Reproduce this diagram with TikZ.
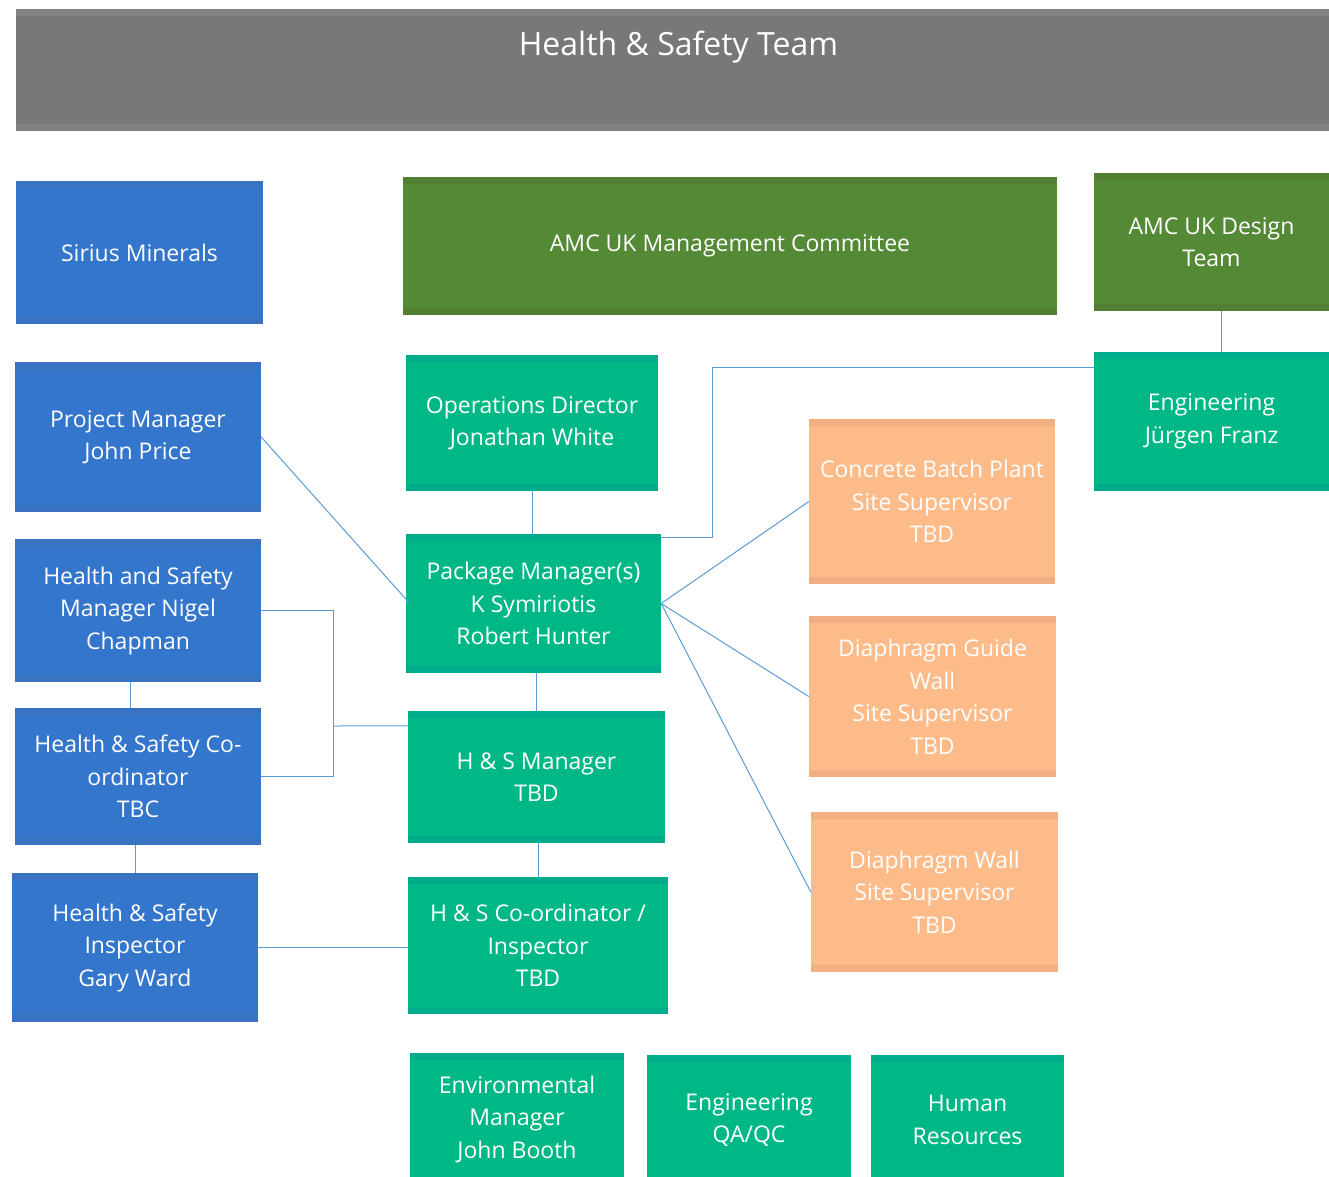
\documentclass[tikz,border=0pt]{standalone}
\usepackage{fontspec}
\setmainfont{Open Sans}
\usetikzlibrary{positioning}

\definecolor{hsgray}{HTML}{787878}
\definecolor{hsgrayband}{HTML}{828282}
\definecolor{hsblue}{HTML}{3476CB}
\definecolor{hsblueband}{HTML}{3A72C2}
\definecolor{hsgreen}{HTML}{548935}
\definecolor{hsgreenband}{HTML}{527F34}
\definecolor{hsteal}{HTML}{00B886}
\definecolor{hstealband}{HTML}{00AD8A}
\definecolor{hsorange}{HTML}{FDBB89}
\definecolor{hsorangeband}{HTML}{F3AF84}
\definecolor{hsline}{HTML}{5B9BD5}

\tikzset{
  band/.style={path picture={
    \fill[#1] (path picture bounding box.north west) rectangle ([yshift=-7pt]path picture bounding box.north east);
    \fill[#1] (path picture bounding box.south west) rectangle ([yshift=7pt]path picture bounding box.south east);}},
  orgbox/.style={inner sep=0pt, align=center, text=white, font=\fontsize{23}{32.5}\selectfont},
  bluebox/.style={orgbox, fill=hsblue, band=hsblueband},
  greenbox/.style={orgbox, fill=hsgreen, band=hsgreenband},
  tealbox/.style={orgbox, fill=hsteal, band=hstealband},
  orangebox/.style={orgbox, fill=hsorange, band=hsorangeband},
  link/.style={draw=hsline, line width=1pt},
}

\begin{document}
\begin{tikzpicture}[x=1pt,y=1pt,yscale=-1,xscale=1]

\useasboundingbox (0,0) rectangle (1329,1176);
\clip (0,0) rectangle (1329,1176);

% Title
\node (title) [orgbox, fill=hsgray, band=hsgrayband, anchor=north, minimum width=1313, text height=46, text depth=76, font=\fontsize{32}{38}\selectfont] at (672.5,9) {\hspace*{12pt}Health \& Safety Team};

% Top row
\node (sirius) [bluebox, minimum width=247, minimum height=143] at (139.5,252.5) {Sirius Minerals};
\node (amc) [greenbox, minimum width=654, minimum height=138] at (730,246) {AMC UK Management Committee};
\node (design) [greenbox, minimum width=235, minimum height=138] at (1211.5,242) {AMC UK Design\\Team};

% Left column
\node (pm) [bluebox, minimum width=246, minimum height=150] at (138,437) {Project Manager\\John Price};
\node (nigel) [bluebox, minimum width=246, minimum height=143] at (138,610.5) {Health and Safety\\Manager Nigel\\Chapman};
\node (hscoord) [bluebox, minimum width=246, minimum height=137] at (138,776.5) {Health \& Safety Co-\\ordinator\\TBC};
\node (inspector) [bluebox, minimum width=246, minimum height=149] at (135,947.5) {Health \& Safety\\Inspector\\Gary Ward};

% Middle column
\node (ops) [tealbox, minimum width=252, minimum height=136] at (532,423) {Operations Director\\Jonathan White};
\node (pkg) [tealbox, minimum width=255, minimum height=139] at (533.5,603.5) {Package Manager(s)\\K Symiriotis\\Robert Hunter};
\node (hsman) [tealbox, minimum width=257, minimum height=132] at (536.5,777) {H \& S Manager\\TBD};
\node (hsinsp) [tealbox, minimum width=260, minimum height=137] at (538,945.5) {H \& S Co-ordinator /\\Inspector\\TBD};

% Right column
\node (eng) [tealbox, minimum width=235, minimum height=139] at (1211.5,421.5) {Engineering\\Jürgen Franz};
\node (batch) [orangebox, minimum width=246, minimum height=165] at (932,501.5) {Concrete Batch Plant\\Site Supervisor\\TBD};
\node (guide) [orangebox, minimum width=247, minimum height=161] at (932.5,696.5) {Diaphragm Guide\\Wall\\Site Supervisor\\TBD};
\node (dwall) [orangebox, minimum width=247, minimum height=160] at (934.5,892) {Diaphragm Wall\\Site Supervisor\\TBD};

% Bottom row
\node (env) [tealbox, minimum width=214, minimum height=132] at (517,1119) {Environmental\\Manager\\John Booth};
\node (qaqc) [tealbox, minimum width=204, minimum height=130] at (749,1120) {Engineering\\QA/QC};
\node (hr) [tealbox, minimum width=193, minimum height=130] at (967.5,1120) {Human\\Resources};

% Links
\coordinate (hsjoin) at (333,726);
\draw [link] (ops.south) -- (ops.south |- pkg.north);
\draw [link] (hsman.north |- pkg.south) -- (hsman.north);
\draw [link] (hsinsp.north |- hsman.south) -- (hsinsp.north);
\draw [link] ([xshift=10pt]design.south) -- ([xshift=10pt]eng.north);
\draw [link] ([xshift=-8pt]nigel.south) -- ([xshift=-8pt]nigel.south |- hscoord.north);
\draw [link] (inspector.north |- hscoord.south) -- (inspector.north);
\draw [link] ([yshift=4pt]pkg.north east) -- ++(51,0) |- ([yshift=16pt]eng.north west);
\draw [link] (pm.east) -- ([xshift=4pt]pkg.west);
\draw [link] (pkg.east) -- (batch.west);
\draw [link] (pkg.east) -- (guide.west);
\draw [link] (pkg.east) -- (dwall.west);
\draw [link] (nigel.east) -| (hsjoin);
\draw [link] (hscoord.east) -| (hsjoin);
\draw [link] (hsjoin) -- ([yshift=15pt]hsman.north west);
\draw [link] (inspector.east) -- (inspector.east -| hsinsp.west);

\end{tikzpicture}
\end{document}
